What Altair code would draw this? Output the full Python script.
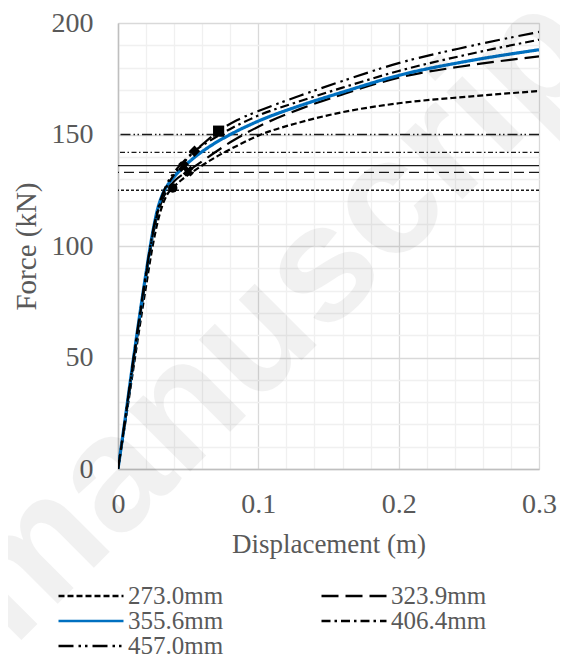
import altair as alt
import pandas as pd

# ---------------- data ----------------
series = ["273.0mm", "323.9mm", "355.6mm", "406.4mm", "457.0mm"]

x_273 = [0, 0.005, 0.01, 0.015, 0.02, 0.025, 0.03, 0.035, 0.039, 0.045, 0.055, 0.07, 0.085, 0.1, 0.13, 0.16, 0.2, 0.25, 0.3]
y_273 = [0, 20, 41, 62, 82, 101, 115, 123, 126, 129.5, 134, 140, 145, 149.5, 155.5, 160, 164, 167, 169.5]

x_323 = [0, 0.005, 0.01, 0.015, 0.02, 0.025, 0.03, 0.035, 0.04, 0.05, 0.06, 0.08, 0.1, 0.13, 0.16, 0.2, 0.25, 0.3]
y_323 = [0, 21, 43, 65, 86, 105, 118, 125, 129, 133.6, 138, 146.5, 153.5, 161.5, 168, 175.5, 181, 185]

x_355 = [0, 0.005, 0.01, 0.015, 0.02, 0.025, 0.028, 0.031, 0.035, 0.04, 0.047, 0.055, 0.065, 0.08, 0.1, 0.13, 0.16, 0.2, 0.25, 0.3]
y_355 = [0, 22, 45, 67, 88, 107, 116, 122, 127, 131, 135.6, 140, 144.5, 150, 156, 163, 169, 176.5, 183, 188]

x_406 = [0, 0.005, 0.01, 0.015, 0.02, 0.025, 0.03, 0.035, 0.04, 0.047, 0.0545, 0.065, 0.08, 0.1, 0.13, 0.16, 0.2, 0.25, 0.3]
y_406 = [0, 21.5, 44, 66, 87, 106, 119, 127, 132, 137.5, 142.5, 147, 152.5, 158.5, 165, 171, 178.5, 186, 192.5]

x_457 = [0, 0.005, 0.01, 0.015, 0.02, 0.025, 0.03, 0.035, 0.04, 0.05, 0.06, 0.0717, 0.085, 0.1, 0.13, 0.16, 0.2, 0.25, 0.3]
y_457 = [0, 22, 45, 67, 88, 107, 120, 128, 133, 140, 145.5, 151.5, 156.5, 160.5, 167.5, 174, 182, 189.5, 196]

# yield (horizontal) lines
yield_force = [125, 133, 136, 142, 150]

# yield markers
marker_x = [0.039, 0.050, 0.0467, 0.0545, 0.0717]
marker_y = [126, 133.6, 135.6, 142.5, 151.5]
marker_shape = ["circle", "cross", "cross", "diamond", "square"]

x_ticks = [0, 0.02, 0.04, 0.06, 0.08, 0.1, 0.12, 0.14, 0.16, 0.18, 0.2, 0.22, 0.24, 0.26, 0.28, 0.3]
y_ticks = list(range(0, 201, 10))

# ---------------- tables ----------------
curves = []
for s, xs, ys in zip(series, [x_273, x_323, x_355, x_406, x_457], [y_273, y_323, y_355, y_406, y_457]):
    for xv, yv in zip(xs, ys):
        curves.append({"series": s, "disp": xv, "force": yv})
curves = pd.DataFrame(curves)

rules = pd.DataFrame({"rseries": series, "force": yield_force})
marks = pd.DataFrame({"mseries": series, "disp": marker_x, "force": marker_y, "shape": marker_shape})

FONT = "Liberation Serif"
TXT = "#595959"

dash_curves = [[6, 3], [17, 7], [1, 0], [9, 4, 2.5, 4], [15, 5, 2.5, 4, 2.5, 5]]
dash_rules = [[3, 2], [10, 5], [1, 0], [5, 2.5, 1.5, 2.5], [10, 3, 1.5, 2.5, 1.5, 3]]
colors = ["#000000", "#000000", "#0070C0", "#000000", "#000000"]

x_scale = alt.Scale(domain=[0, 0.3], nice=False, zero=False)
y_scale = alt.Scale(domain=[0, 200], nice=False)

x_axis = alt.Axis(
    values=x_ticks,
    labelExpr="abs(datum.value*10 - round(datum.value*10)) < 0.001 ? (datum.value == 0 ? '0' : format(datum.value, '.1f')) : ''",
    gridColor={"condition": {"test": "abs(datum.value*10 - round(datum.value*10)) < 0.001", "value": "#d9d9d9"}, "value": "#f0f0f0"},
    gridWidth=1.3,
    ticks=False, tickSize=0,
    domainColor="#bfbfbf", domainWidth=1.5,
    labelFont=FONT, labelFontSize=28, labelColor=TXT, labelPadding=21,
    labelOverlap=False, labelFlush=False,
    title="Displacement (m)", titleFont=FONT, titleFontSize=27, titleFontWeight="normal",
    titleColor=TXT, titlePadding=13,
)
y_axis = alt.Axis(
    values=y_ticks,
    labelExpr="datum.value % 50 == 0 ? datum.label : ''",
    gridColor={"condition": {"test": "datum.value % 50 == 0", "value": "#d9d9d9"}, "value": "#f0f0f0"},
    gridWidth=1.3,
    ticks=False, tickSize=0,
    domainColor="#bfbfbf", domainWidth=1.5,
    labelFont=FONT, labelFontSize=28, labelColor=TXT, labelPadding=25,
    labelOverlap=False, labelFlush=False,
    title="Force (kN)", titleFont=FONT, titleFontSize=29, titleFontWeight="normal",
    titleColor=TXT, titlePadding=10,
)

legend = alt.Legend(
    orient="none", legendX=-61, legendY=561, columns=2, direction="horizontal", title=None,
    symbolType="stroke", symbolSize=4225, clipHeight=24, symbolStrokeWidth=2.3,
    labelFont=FONT, labelFontSize=25, labelColor=TXT, labelOffset=3,
    columnPadding=96, rowPadding=0,
)

watermark = alt.Chart(pd.DataFrame({"t": ["manuscript"]})).mark_text(
    font="Liberation Sans", fontSize=165, fontWeight="bold", color="#000000", opacity=0.05,
    angle=315, align="left", baseline="middle",
).encode(text="t:N", x=alt.value(-140), y=alt.value(590))

rule_layers = []
for s, dsh in zip(series, dash_rules):
    rule_layers.append(
        alt.Chart(rules).transform_filter(alt.datum.rseries == s).mark_rule(
            strokeWidth=1.3, color="#1a1a1a", strokeDash=dsh
        ).encode(y=alt.Y("force:Q", scale=y_scale, axis=y_axis))
    )

lines = alt.Chart(curves).mark_line(interpolate="monotone", clip=True).encode(
    x=alt.X("disp:Q", scale=x_scale, axis=x_axis),
    y=alt.Y("force:Q", scale=y_scale, axis=y_axis),
    color=alt.Color("series:N", scale=alt.Scale(domain=series, range=colors), legend=legend),
    strokeDash=alt.StrokeDash("series:N", scale=alt.Scale(domain=series, range=dash_curves), legend=legend),
    strokeWidth=alt.condition("datum.series == '355.6mm'", alt.value(3.2), alt.value(2.2)),
    order=alt.Order("disp:Q"),
)

point_layers = []
for shp, sz, ang in [("circle", 90, 0), ("cross", 120, 45), ("diamond", 130, 0), ("square", 125, 0)]:
    point_layers.append(
        alt.Chart(marks).transform_filter(alt.datum.shape == shp).mark_point(
            shape=shp, filled=True, color="black", opacity=1, size=sz, angle=ang
        ).encode(
            x=alt.X("disp:Q", scale=x_scale, axis=x_axis),
            y=alt.Y("force:Q", scale=y_scale, axis=y_axis),
        )
    )

chart = alt.layer(*rule_layers, lines, *point_layers, watermark).properties(
    width=421, height=446,
    autosize=alt.AutoSizeParams(type="none"),
    padding={"left": 110, "top": 15, "right": 21, "bottom": 190},
).configure_view(stroke=None).configure(background="white")

chart.save("out.html", embed_options={"renderer": "svg", "actions": False})
